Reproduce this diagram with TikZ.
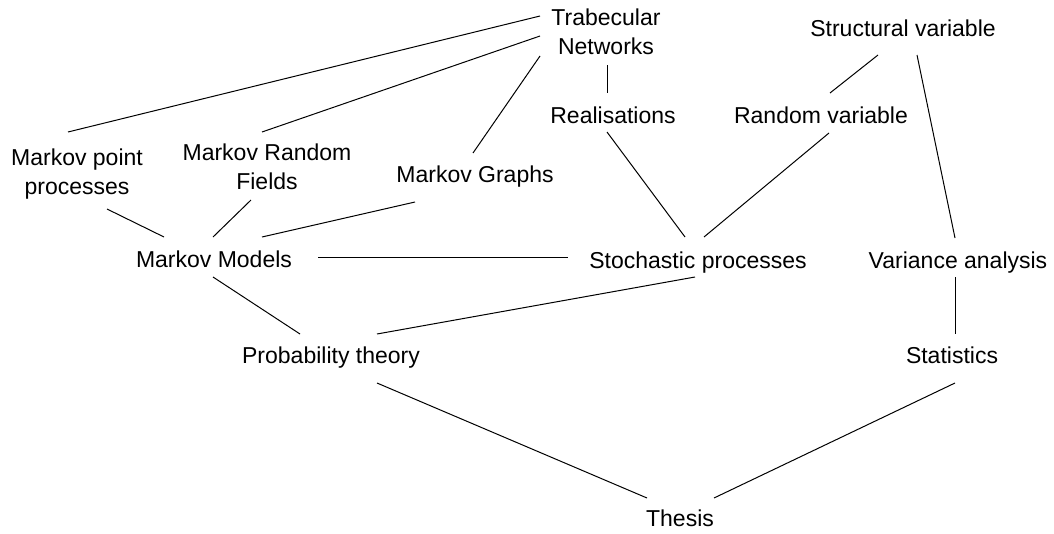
\documentclass[tikz,border=0pt]{standalone}
\usepackage{fontspec}
\setmainfont{Liberation Sans}
\begin{document}
\begin{tikzpicture}[x=1pt,y=-1pt,
  one/.style={inner sep=0pt, font=\fontsize{23}{28.5}\selectfont, text height=17pt, text depth=0pt},
  two/.style={inner sep=0pt, font=\fontsize{23}{28.5}\selectfont, align=center},
  link/.style={line width=1pt, draw=black}]
\useasboundingbox (0,0) rectangle (1054,533);
% nodes
\node[two] (trab)   at (606,32)  {Trabecular\\Networks};
\node[one] (struct) at (903,28)  {Structural variable};
\node[one] (real)   at (613,115) {Realisations};
\node[one] (randv)  at (821,115) {Random variable};
\node[two] (mpp)    at (77,174)  {Markov point\\processes};
\node[two] (mrf)    at (267,167) {Markov Random\\Fields};
\node[one] (mg)     at (475,174) {Markov Graphs};
\node[one] (mm)     at (214,259) {Markov Models};
\node[one] (stoch)  at (698,260) {Stochastic processes};
\node[one] (var)    at (958,260) {Variance analysis};
\node[one] (prob)   at (331,355) {Probability theory};
\node[one] (stat)   at (952,355) {Statistics};
\node[one] (thesis) at (680,518) {Thesis};
% connectors
\draw[link] ([shift={(-66,-16)}]trab.center) -- ([shift={(-9,-42)}]mpp.center);
\draw[link] ([shift={(-66,4)}]trab.center) -- ([shift={(-5,-35)}]mrf.center);
\draw[link] ([shift={(-66,24)}]trab.center) -- ([shift={(-2,-21)}]mg.center);
\draw[link] ([shift={(1,33)}]trab.center) -- ([shift={(-6,-22)}]real.center);
\draw[link] ([shift={(-25,27)}]struct.center) -- ([shift={(9,-22)}]randv.center);
\draw[link] ([shift={(14,27)}]struct.center) -- ([shift={(-3,-22)}]var.center);
\draw[link] ([shift={(-6,17)}]real.center) -- ([shift={(-13,-23)}]stoch.center);
\draw[link] ([shift={(8,18)}]randv.center) -- ([shift={(6,-23)}]stoch.center);
\draw[link] ([shift={(30,35)}]mpp.center) -- ([shift={(-50,-22)}]mm.center);
\draw[link] ([shift={(-16,33)}]mrf.center) -- ([shift={(-1,-22)}]mm.center);
\draw[link] ([shift={(-60,28)}]mg.center) -- ([shift={(48,-22)}]mm.center);
\draw[link] ([shift={(104,-2)}]mm.center) -- ([shift={(-130,-3)}]stoch.center);
\draw[link] ([shift={(-1,18)}]mm.center) -- ([shift={(-31,-21)}]prob.center);
\draw[link] ([shift={(-3,17)}]stoch.center) -- ([shift={(46,-21)}]prob.center);
\draw[link] ([shift={(-3,17)}]var.center) -- ([shift={(3,-21)}]stat.center);
\draw[link] ([shift={(46,28)}]prob.center) -- ([shift={(-33,-20)}]thesis.center);
\draw[link] ([shift={(3,28)}]stat.center) -- ([shift={(34,-20)}]thesis.center);
\end{tikzpicture}
\end{document}
